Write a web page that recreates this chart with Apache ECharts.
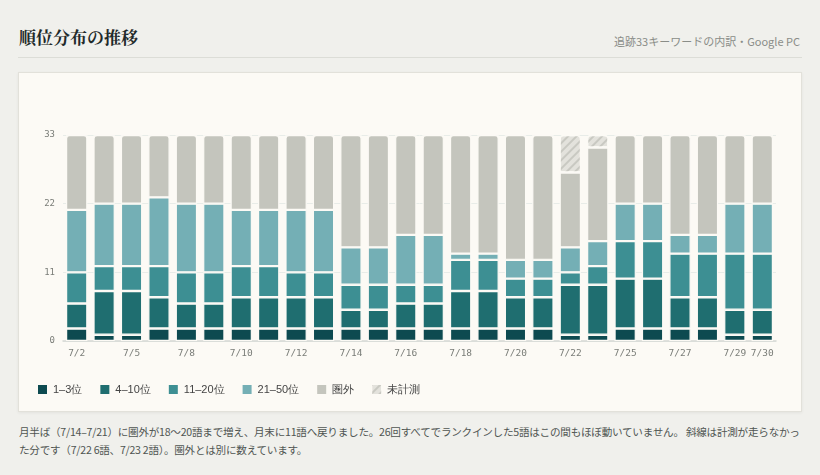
<!DOCTYPE html>
<html><head><meta charset="utf-8">
<script src="https://cdn.jsdelivr.net/npm/echarts@6/dist/echarts.min.js"></script>
<style>
html,body{margin:0;padding:0;background:#f0f0ec;width:820px;height:475px;overflow:hidden;font-family:"Noto Sans CJK JP","Noto Sans",sans-serif;}
#title{position:absolute;left:19px;top:24px;font-family:"Noto Serif CJK JP","Noto Sans CJK JP",serif;font-weight:700;font-size:17px;color:#1f2a2a;}
#sub{position:absolute;right:20px;top:33px;font-size:11px;color:#8a8d88;}
#rule{position:absolute;left:18px;right:18px;top:57px;height:1px;background:#dcddd7;}
#card{position:absolute;left:18px;top:72px;width:782px;height:338px;background:#fcfaf5;border:1px solid #e2e1da;box-shadow:0 1px 3px rgba(0,0,0,0.06);}
#chart{width:782px;height:338px;}
#note{position:absolute;left:19px;top:423px;width:785px;font-size:10.6px;letter-spacing:-0.25px;line-height:18px;color:#4f5552;}
</style></head><body>
<div id="title">順位分布の推移</div>
<div id="sub">追跡33キーワードの内訳・Google PC</div>
<div id="rule"></div>
<div id="card"><div id="chart"></div></div>
<div id="note">月半ば（7/14–7/21）に圏外が18〜20語まで増え、月末に11語へ戻りました。26回すべてでランクインした5語はこの間もほぼ動いていません。 斜線は計測が走らなかった分です（7/22 6語、7/23 2語）。圏外とは別に数えています。</div>
<script>
const dates=["7/2","7/4","7/5","7/7","7/8","7/9","7/10","7/11","7/12","7/13","7/14","7/15","7/16","7/17","7/18","7/19","7/20","7/21","7/22","7/23","7/25","7/26","7/27","7/28","7/29","7/30"];
const yTicks=[0,11,22,33];
const rank1_3 =[2,1,1,2,2,2,2,2,2,2,2,2,2,2,2,2,2,2,1,1,2,2,2,2,1,1];
const rank4_10=[4,7,7,5,4,4,5,5,5,5,3,3,4,4,6,6,5,5,8,8,8,8,5,5,4,4];
const rank11_20=[5,4,4,5,5,5,5,5,4,4,4,4,3,3,5,5,3,3,2,3,6,6,7,7,9,9];
const rank21_50=[10,10,10,11,11,11,9,9,10,10,6,6,8,8,1,1,3,3,4,4,6,6,3,3,8,8];
const outside =[12,11,11,10,11,11,12,12,12,12,18,18,16,16,19,19,20,20,12,15,11,11,16,16,11,11];
const missing =[0,0,0,0,0,0,0,0,0,0,0,0,0,0,0,0,0,0,6,2,0,0,0,0,0,0];
const names=["1–3位","4–10位","11–20位","21–50位","圏外","未計測"];
const colors=["#0d4a50","#1f6e70","#3d8f93","#74afb5","#c4c5bd","#eceae4"];
const vals=[rank1_3,rank4_10,rank11_20,rank21_50,outside,missing];
const ch=echarts.init(document.getElementById('chart'));
const series=vals.map((v,i)=>{
  const s={name:names[i],type:'bar',stack:'a',barWidth:'78%',data:v.map((x,j)=>{
      const top=(i===5)||(i===4&&missing[j]===0);
      return {value:x,itemStyle:top?{borderRadius:[3,3,0,0]}:{}};
    }),
    itemStyle:{color:colors[i],borderColor:'#fcfaf5',borderWidth:1.2}};
  if(i===5){s.itemStyle={color:'#e3e2dc',borderColor:'#fcfaf5',borderWidth:1.2,decal:{symbol:'rect',dashArrayX:[1,0],dashArrayY:[2,4],rotation:-Math.PI/4,color:'#c9c9c2'}};}
  return s;
});
ch.setOption({
  animation:false,
  grid:{left:44,right:25,top:62,bottom:70},
  legend:{left:12,bottom:10,itemWidth:11,itemHeight:11,itemGap:16,icon:'rect',
    textStyle:{fontSize:11,color:'#444'},data:names},
  xAxis:{type:'category',data:dates,
    axisLine:{lineStyle:{color:'#d5d8d3',width:1.5}},axisTick:{show:false},
    axisLabel:{fontFamily:'DejaVu Sans Mono',fontSize:9.5,color:'#7a7d78',margin:8,
      interval:(i)=>i%2===0||i===dates.length-1}},
  yAxis:{type:'value',min:0,max:33,interval:11,
    axisLabel:{fontFamily:'DejaVu Sans Mono',fontSize:9,color:'#7a7d78',
      formatter:v=>yTicks.includes(v)?String(v):''},
    splitLine:{lineStyle:{color:'#e8ece8'}},axisLine:{show:false},axisTick:{show:false}},
  series:series
});
</script></body></html>
